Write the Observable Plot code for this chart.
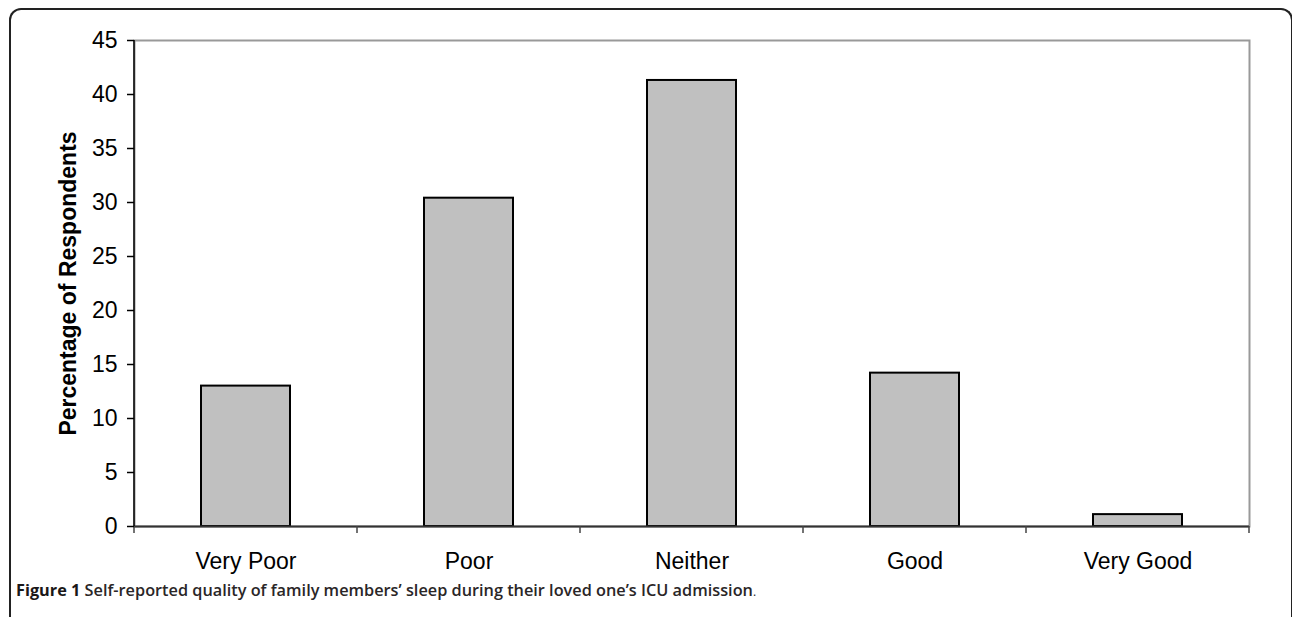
<!DOCTYPE html>
<html><head><meta charset="utf-8">
<script src="https://cdn.jsdelivr.net/npm/d3@7"></script>
<script src="https://cdn.jsdelivr.net/npm/@observablehq/plot@0.6"></script>
<style>
html,body{margin:0;padding:0;background:#fff;overflow:hidden;width:1292px;height:617px;}
#frame{position:absolute;left:9px;top:8px;width:1284px;height:700px;border:2px solid #222;border-bottom:none;border-radius:12px 12px 0 0;box-sizing:border-box;}
#chart{position:absolute;left:0;top:0;}
#caption{position:absolute;left:16px;top:579px;font-family:"Open Sans";font-weight:600;font-size:16.3px;color:#2a2627;white-space:nowrap;}
#caption b{font-weight:700;color:#1a1718;}
#caption span.p{font-weight:400;font-size:12px;}
</style>
</head><body>
<div id="frame"></div>
<div id="chart"></div>
<div id="caption"><b>Figure 1</b> Self-reported quality of family members’ sleep during their loved one’s ICU admission<span class="p">.</span></div>
<script>
const categories = ["Very Poor", "Poor", "Neither", "Good", "Very Good"];
const percentages = [13.0, 30.4, 41.3, 14.2, 1.1];
const yTicks = [0, 5, 10, 15, 20, 25, 30, 35, 40, 45];
const yLabel = "Percentage of Respondents";

const data = categories.map((c, i) => ({category: c, value: percentages[i]}));

const boundaryTicks = (index, scales, values, dims) => {
  const x = scales.x, y = scales.y;
  const bw = x.bandwidth(), step = x.step();
  const gap = (step - bw) / 2;
  const bounds = categories.map(c => x(c) - gap).concat([x(categories[categories.length - 1]) + bw + gap]);
  const y0 = y(0);
  const g = d3.create("svg:g");
  g.selectAll("line.t").data(bounds).join("line")
    .attr("x1", d => d).attr("x2", d => d)
    .attr("y1", y0).attr("y2", y0 + 7)
    .attr("stroke", "#444").attr("stroke-width", 1.5);
  g.append("line")
    .attr("x1", dims.marginLeft).attr("x2", dims.marginLeft)
    .attr("y1", dims.marginTop).attr("y2", dims.height - dims.marginBottom)
    .attr("stroke", "#000").attr("stroke-width", 1.5);
  return g.node();
};

const chart = Plot.plot({
  width: 1292,
  height: 617,
  marginLeft: 134,
  marginRight: 43,
  marginTop: 40,
  marginBottom: 91,
  style: {fontFamily: "'Liberation Sans', Arial, sans-serif", fontSize: "23px", color: "#000", background: "transparent"},
  x: {domain: categories, paddingInner: 0.6, paddingOuter: 0.3, label: null},
  y: {domain: [0, 45], label: null},
  marks: [
    Plot.frame({stroke: "#999", strokeWidth: 2}),
    Plot.barY(data, {x: "category", y: "value", fill: "#c0c0c0", stroke: "#000", strokeWidth: 2}),
    Plot.ruleY([0], {stroke: "#333", strokeWidth: 2}),
    boundaryTicks,
    Plot.axisX({tickSize: 0, tickPadding: 26, fontSize: 23, fill: "#000"}),
    Plot.axisY({ticks: yTicks, tickSize: 7, tickPadding: 10, fontSize: 23, fill: "#000", stroke: "#000", strokeWidth: 1.5, label: null}),
    Plot.text([yLabel], {frameAnchor: "left", textAnchor: "middle", rotate: -90, dx: -66, fontWeight: "bold", fontSize: 23, fill: "#000"})
  ]
});
document.getElementById("chart").appendChild(chart);
</script>
</body></html>
